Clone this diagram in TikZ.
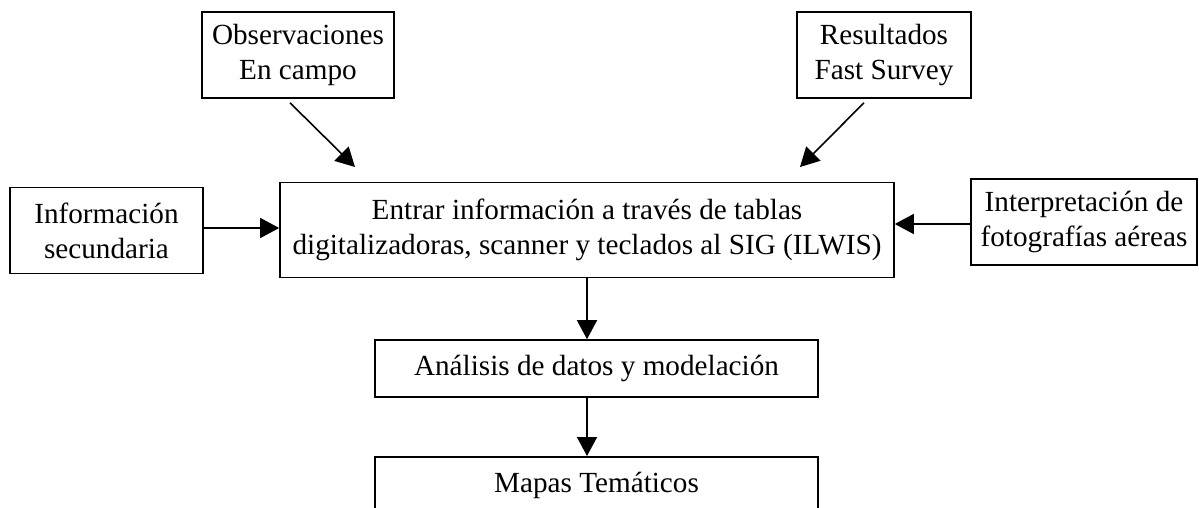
\documentclass[tikz,border=0pt]{standalone}
\usepackage{fontspec}
\setmainfont{Liberation Serif}
\tikzstyle{caja}=[rectangle,draw=black,line width=0.8pt,align=center,
	inner sep=0pt,font=\fontsize{14.6}{17.5}\selectfont]
\tikzstyle{flecha}=[line width=0.8pt,-{Triangle[length=9.5pt,width=10pt]}]
\usetikzlibrary{arrows.meta,positioning}

\begin{document}
\begin{tikzpicture}[x=0.5pt,y=-0.5pt]
			\clip (0,0) rectangle (1199,508);

			\node[caja,minimum width=96pt,minimum height=43pt] (obs) at (298,55) {Observaciones\\En campo};
			\node[caja,minimum width=87pt,minimum height=43pt] (res) at (884,55) {Resultados\\Fast Survey};
			\node[caja,minimum width=96.5pt,minimum height=43pt] (info) at (106.5,230.5) {Informaci\'on\\secundaria};
			\node[caja,minimum width=307pt,minimum height=47.5pt] (entrada) at (587,230) {Entrar informaci\'on a trav\'es de tablas\\digitalizadoras, scanner y teclados al SIG (ILWIS)};
			\node[caja,minimum width=113pt,minimum height=43pt] (foto) at (1084,222) {Interpretaci\'on de\\fotograf\'ias a\'ereas};
			\node[caja,minimum width=221.5pt,minimum height=28.5pt] (analisis) at (596.5,368.5) {An\'alisis de datos y modelaci\'on};
			\node[caja,minimum width=221.5pt,minimum height=28pt,anchor=north] (mapas) at (596.5,456) {};
			\node[font=\fontsize{14.6}{17.5}\selectfont] (mapastxt) at (596.5,485) {Mapas Tem\'aticos};

			\coordinate (obsin) at (355,167);
			\coordinate (resin) at (800,167);

			\draw[flecha] ([xshift=-4pt,yshift=-2pt]obs.south) -- (obsin);
			\draw[flecha] ([xshift=-10pt,yshift=-2pt]res.south) -- (resin);
			\draw[flecha] (info.east |- 0,228) -- (entrada.west |- 0,228);
			\draw[flecha] (foto.west |- 0,224) -- (entrada.east |- 0,224);
			\draw[flecha] (entrada.south) -- (entrada.south |- analisis.north);
			\draw[flecha] (analisis.south -| entrada.south) -- (mapas.north -| entrada.south);
		\end{tikzpicture}
\end{document}
